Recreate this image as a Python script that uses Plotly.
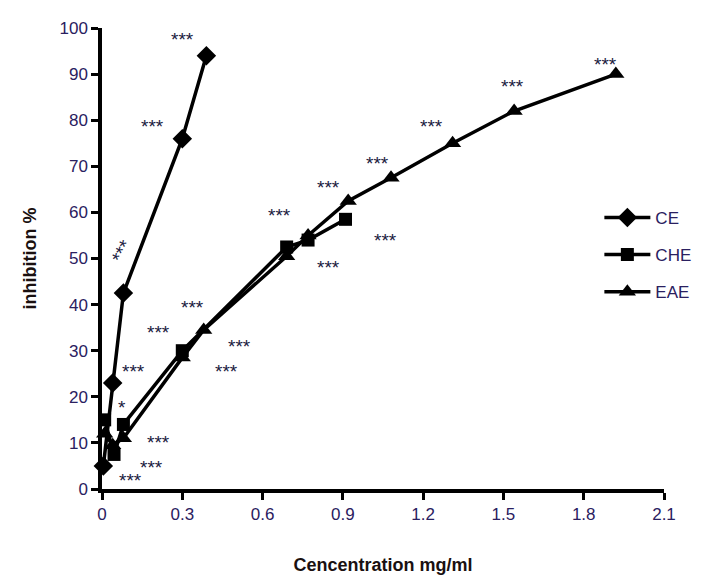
import plotly.graph_objects as go

# Data
ce_x = [0.005, 0.04, 0.08, 0.30, 0.39]
ce_y = [5, 23, 42.5, 76, 94]

che_x = [0.01, 0.045, 0.08, 0.30, 0.69, 0.77, 0.91]
che_y = [15, 7.5, 14, 30, 52.5, 54, 58.5]

eae_x = [0.01, 0.04, 0.08, 0.30, 0.38, 0.69, 0.77, 0.92, 1.08, 1.31, 1.54, 1.92]
eae_y = [12, 9.5, 11, 28.5, 34.5, 50.5, 55, 62.5, 67.5, 75, 82, 90]

x_ticks = [0, 0.3, 0.6, 0.9, 1.2, 1.5, 1.8, 2.1]
x_tick_labels = ["0", "0.3", "0.6", "0.9", "1.2", "1.5", "1.8", "2.1"]
y_ticks = [0, 10, 20, 30, 40, 50, 60, 70, 80, 90, 100]

# significance labels (text, x, y, angle)
sig_x = [0.30, 0.19, 0.075, 0.34, 0.21, 0.515, 0.467, 0.117, 0.076, 0.21, 0.186, 0.105,
         1.03, 0.845, 0.665, 1.06, 0.845, 1.88, 1.535, 1.23]
sig_y = [97.5, 78.6, 51.5, 39.3, 34, 30.9, 25.5, 25.5, 17.6, 10, 4.6, 1.8,
         70.6, 65.4, 59.3, 53.9, 48, 92, 87.3, 78.6]
sig_text = ["***", "***", "***", "***", "***", "***", "***", "***", "*", "***", "***", "***",
            "***", "***", "***", "***", "***", "***", "***", "***"]
sig_angle = [0, 0, -62, 0, 0, 0, 0, 0, 0, 0, 0, 0, 0, 0, 0, 0, 0, 0, 0, 0]

fig = go.Figure()
line_style = dict(color="black", width=3.5)
fig.add_trace(go.Scatter(x=ce_x, y=ce_y, name="CE", mode="lines+markers",
                         line=line_style, legendgroup="a",
                         marker=dict(symbol="diamond", size=15, color="black")))
fig.add_trace(go.Scatter(x=che_x, y=che_y, name="CHE", mode="lines+markers",
                         line=line_style, legendgroup="b",
                         marker=dict(symbol="square", size=13, color="black")))
fig.add_trace(go.Scatter(x=eae_x, y=eae_y, name="EAE", mode="lines+markers",
                         line=line_style, legendgroup="c",
                         marker=dict(symbol="triangle-up", size=15, color="black")))

for t, x, y, a in zip(sig_text, sig_x, sig_y, sig_angle):
    fig.add_annotation(x=x, y=y, text=t, showarrow=False, textangle=a,
                       font=dict(family="Liberation Sans, Arial", size=19, color="#1a1a40"))

tick_font = dict(family="Liberation Sans, Arial", size=17, color="#2a2060")
title_font = dict(family="Liberation Sans, Arial", size=18, color="#1a1010")

fig.update_layout(
    width=715, height=581,
    margin=dict(l=94, r=59, t=20, b=100),
    paper_bgcolor="white", plot_bgcolor="white",
    showlegend=True,
    legend=dict(x=0.885, y=0.627, xanchor="left", yanchor="top",
                font=dict(family="Liberation Sans, Arial", size=17, color="#2a2060"),
                traceorder="grouped", tracegroupgap=12, itemwidth=46,
                bgcolor="rgba(0,0,0,0)"),
    xaxis=dict(range=[0, 2.1], tickvals=x_ticks, ticktext=x_tick_labels,
               showline=True, linecolor="black", linewidth=3.5, mirror=False,
               ticks="outside", ticklen=7, tickwidth=3, tickcolor="black",
               showgrid=False, zeroline=False, tickfont=tick_font, automargin=False,
               title=dict(text="<b>Cencentration mg/ml</b>", font=title_font, standoff=36)),
    yaxis=dict(range=[0, 100], tickvals=y_ticks,
               showline=True, linecolor="black", linewidth=3.5,
               ticks="outside", ticklen=7, tickwidth=3, tickcolor="black",
               showgrid=False, zeroline=False, tickfont=tick_font, automargin=False,
               title=dict(text="<b>inhibition %</b>", font=title_font, standoff=19)),
)
for tr in fig.data:
    tr.cliponaxis = False

fig.write_html("out.html")
